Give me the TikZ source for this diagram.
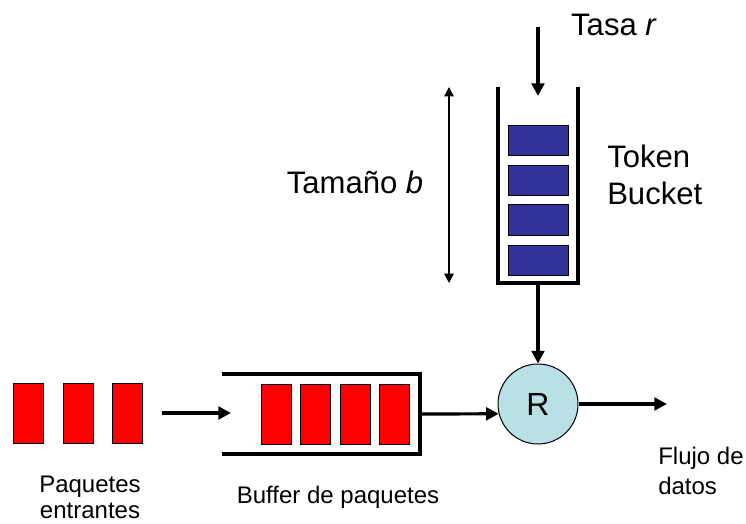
\documentclass[tikz,border=0pt]{standalone}
\usepackage{fontspec}
\setmainfont{Liberation Sans}
\usetikzlibrary{arrows.meta}

\definecolor{tokenblue}{RGB}{51,51,153}
\definecolor{routercyan}{RGB}{185,224,228}

\begin{document}
\begin{tikzpicture}[x=0.75pt,y=-0.75pt,
  big/.style={font=\fontsize{23.3}{28}\selectfont},
  small/.style={font=\fontsize{18}{19.5}\selectfont},
  token/.style={draw,line width=0.75pt,fill=tokenblue,minimum width=45pt,minimum height=22.5pt,inner sep=0pt},
  packet/.style={draw,line width=0.75pt,fill=red,minimum width=22.5pt,minimum height=45pt,inner sep=0pt},
  flow/.style={-{Triangle[length=9.5pt,width=9.5pt]},line width=2.4pt},
  wall/.style={line width=2.6pt}]

  \useasboundingbox (0,0) rectangle (746,524);

  % token bucket
  \draw[wall] (498,87) -- (498,283) -- (578,283) -- (578,87);
  \foreach \y [count=\i] in {141,181,220,260}
    \node[token] (t\i) at (538,\y) {};

  \node[big] (rate) at (614,25) {Tasa \textit{r}};
  \coordinate (rate-in) at (538,27);
  \coordinate (rate-out) at (538,96);
  \draw[flow] (rate-in) -- (rate-out);

  \node[big] (size) at (355,182) {Tamaño \textit{b}};
  \coordinate (size-top) at (449,87);
  \coordinate (size-bot) at (449,283);
  \draw[{Triangle[length=7pt,width=7pt]}-{Triangle[length=7pt,width=7pt]},line width=1.1pt]
    (size-top) -- (size-bot);

  \node[big,align=left,anchor=west,inner sep=0pt] (bucket) at (607,175) {Token\\Bucket};

  % incoming packets
  \foreach \x [count=\i] in {28,78,127}
    \node[packet] (p\i) at (\x,413) {};
  \node[small,align=center] (incoming) at (90,497) {Paquetes\\entrantes};

  \coordinate (in-start) at (162,413);
  \coordinate (in-end) at (231,413);
  \draw[flow] (in-start) -- (in-end);

  % packet buffer
  \draw[wall] (222,374) -- (420,374) -- (420,454) -- (222,454);
  \foreach \x [count=\i] in {276,315,355,394.5}
    \node[packet] (b\i) at (\x,414) {};
  \node[small] (buffer) at (338,497) {Buffer de paquetes};

  % regulator
  \node[draw,circle,fill=routercyan,line width=0.75pt,minimum size=60pt,inner sep=0pt,
    font=\fontsize{24}{26}\selectfont] (R) at (538,404) {R};

  \coordinate (bucket-out) at (538,283);
  \draw[flow] (bucket-out) -- (R);
  \coordinate (buffer-out) at (420,414);
  \draw[flow] (buffer-out) -- (R.194);
  \coordinate (flow-out) at (667,404);
  \draw[flow] (R) -- (flow-out);

  \node[font=\fontsize{18}{22.5}\selectfont,align=left,anchor=west,inner sep=0pt] (output) at (658,471) {Flujo de\\datos};
\end{tikzpicture}
\end{document}
